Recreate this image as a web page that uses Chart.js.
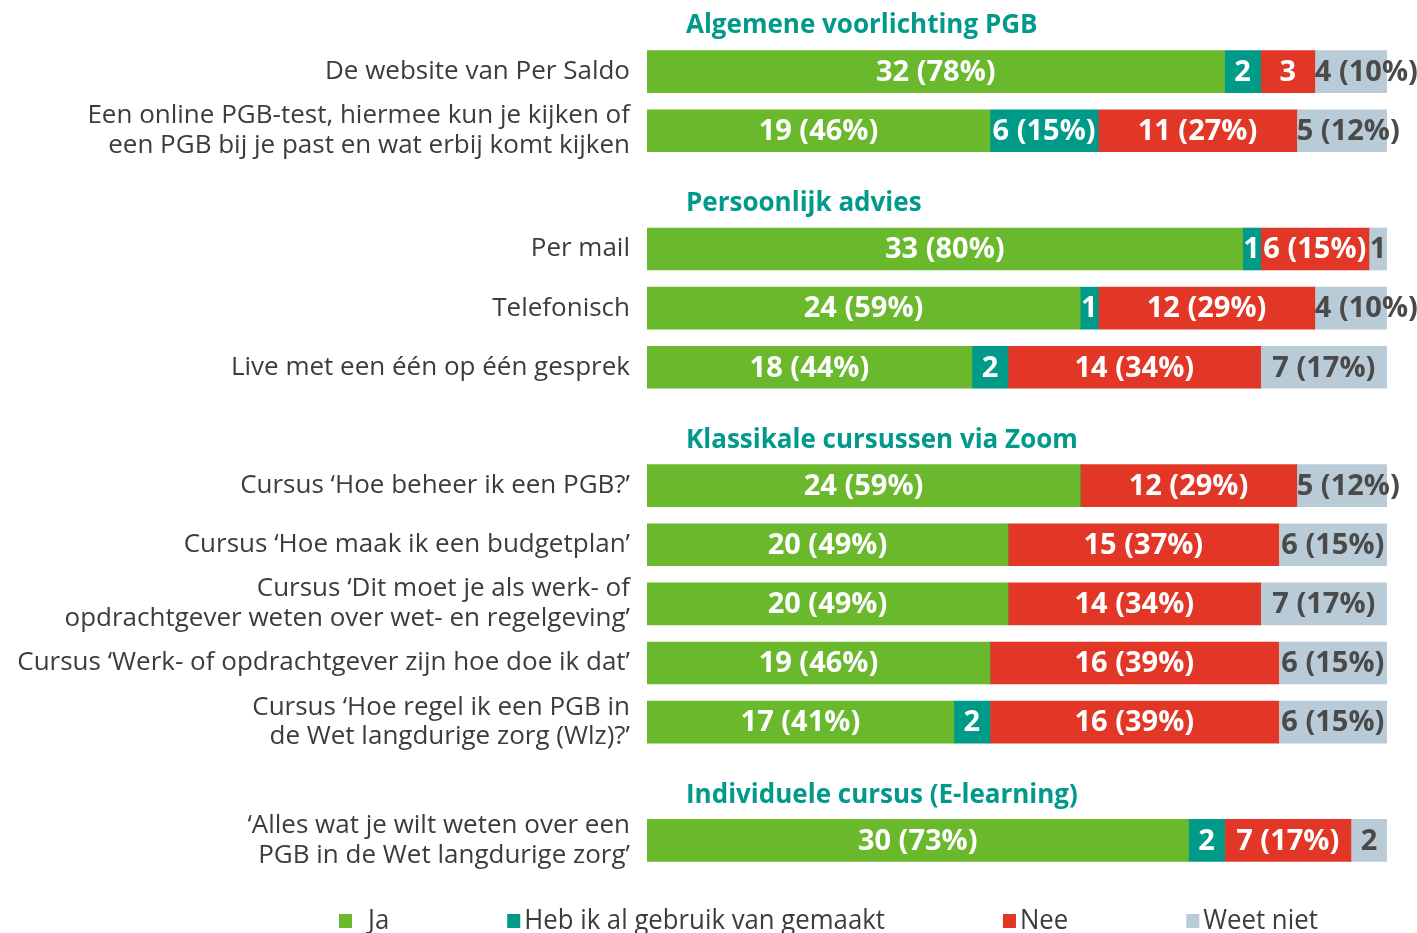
<!DOCTYPE html>
<html>
<head>
<meta charset="utf-8">
<script src="https://cdn.jsdelivr.net/npm/chart.js@4.4.1/dist/chart.umd.min.js"></script>
<style>
  body { margin: 0; background: #fff; }
  #wrap { width: 1417px; height: 933px; }
</style>
</head>
<body>
<div id="wrap"><canvas id="chart" width="1417" height="933"></canvas></div>
<script>
// Categories (empty slots hold the group headings)
const categories = [
    'De website van Per Saldo',
    ['Een online PGB-test, hiermee kun je kijken of', 'een PGB bij je past en wat erbij komt kijken'],
    '',
    'Per mail',
    'Telefonisch',
    'Live met een één op één gesprek',
    '',
    'Cursus ‘Hoe beheer ik een PGB?’',
    'Cursus ‘Hoe maak ik een budgetplan’',
    ['Cursus ‘Dit moet je als werk- of', 'opdrachtgever weten over wet- en regelgeving’'],
    'Cursus ‘Werk- of opdrachtgever zijn hoe doe ik dat’',
    ['Cursus ‘Hoe regel ik een PGB in', 'de Wet langdurige zorg (Wlz)?’'],
    '',
    ['‘Alles wat je wilt weten over een', 'PGB in de Wet langdurige zorg’']
];

const headers = ['Algemene voorlichting PGB', 'Persoonlijk advies', 'Klassikale cursussen via Zoom', 'Individuele cursus (E-learning)'];
const headerSlots = [-1, 2, 6, 12];

const seriesNames = ['Ja', 'Heb ik al gebruik van gemaakt', 'Nee', 'Weet niet'];
const ja   = [32, 19, null, 33, 24, 18, null, 24, 20, 20, 19, 17, null, 30];
const heb  = [2, 6, null, 1, 1, 2, null, 0, 0, 0, 0, 2, null, 2];
const nee  = [3, 11, null, 6, 12, 14, null, 12, 15, 14, 16, 16, null, 7];
const weet = [4, 5, null, 1, 4, 7, null, 5, 6, 7, 6, 6, null, 2];
const total = 41;

const colors = ['#6ab82c', '#009a88', '#e23726', '#b9cbd7'];
const labelColors = ['#ffffff', '#ffffff', '#ffffff', '#4a4a4a'];

// Value labels inside the bars
const barLabels = {
    id: 'barLabels',
    afterDatasetsDraw(chart) {
        const ctx = chart.ctx;
        ctx.save();
        ctx.font = 'bold 29px "Open Sans"';
        ctx.textBaseline = 'middle';
        chart.data.datasets.forEach((ds, di) => {
            const meta = chart.getDatasetMeta(di);
            meta.data.forEach((bar, i) => {
                const v = ds.data[i];
                if (!v) return;
                const pct = Math.round(v / total * 100);
                const text = v >= 4 ? `${v} (${pct}%)` : `${v}`;
                const left = Math.min(bar.x, bar.base);
                const w = Math.abs(bar.x - bar.base);
                const tw = ctx.measureText(text).width;
                ctx.fillStyle = labelColors[di];
                if (tw > w + 4) {
                    ctx.textAlign = 'left';
                    ctx.fillText(text, left, bar.y + 1);
                } else {
                    ctx.textAlign = 'center';
                    ctx.fillText(text, left + w / 2, bar.y + 1);
                }
            });
        });
        ctx.restore();
    }
};

// Group headings + legend
const extras = {
    id: 'extras',
    afterDraw(chart) {
        const ctx = chart.ctx;
        const y = chart.scales.y;
        ctx.save();
        ctx.font = 'bold 26px "Open Sans"';
        ctx.fillStyle = '#00998a';
        ctx.textAlign = 'left';
        ctx.textBaseline = 'middle';
        headers.forEach((h, k) => {
            const slot = headerSlots[k];
            let py;
            if (slot < 0) py = y.getPixelForValue(0) - 46;
            else py = y.getPixelForValue(slot) + 14;
            ctx.fillText(h, chart.chartArea.left + 39, py);
        });

        // legend
        ctx.font = '28px "Open Sans"';
        ctx.textBaseline = 'middle';
        let x = 339;
        const ly = 921;
        const squeeze = 0.92;
        seriesNames.forEach((name, k) => {
            ctx.fillStyle = colors[k];
            ctx.fillRect(x, ly - 7, 13, 14);
            const tx = x + (k === 0 ? 29 : 17);
            const tw = ctx.measureText(name).width * squeeze;
            ctx.save();
            ctx.translate(tx, ly);
            ctx.scale(squeeze, 1);
            ctx.fillStyle = '#3c3c3c';
            ctx.fillText(name, 0, 0);
            ctx.restore();
            x = tx + tw + 118;
        });
        ctx.restore();
    }
};

new Chart(document.getElementById('chart'), {
    type: 'bar',
    data: {
        labels: categories,
        datasets: [ja, heb, nee, weet].map((d, k) => ({
            label: seriesNames[k],
            data: d,
            backgroundColor: colors[k],
            borderWidth: 0,
            barThickness: 42
        }))
    },
    options: {
        indexAxis: 'y',
        responsive: false,
        animation: false,
        layout: { padding: { top: 42, bottom: 63, left: 0, right: 30 } },
        plugins: {
            legend: { display: false },
            tooltip: { enabled: false }
        },
        scales: {
            x: {
                stacked: true,
                min: 0,
                max: total,
                display: false
            },
            y: {
                stacked: true,
                grid: { display: false },
                border: { display: false },
                afterFit: (scale) => { scale.width = 647; },
                ticks: {
                    padding: 9,
                    color: '#3c3c3c',
                    font: { family: '"Open Sans"', size: 26, lineHeight: 1.15 },
                    autoSkip: false
                }
            }
        }
    },
    plugins: [barLabels, extras]
});
</script>
</body>
</html>
